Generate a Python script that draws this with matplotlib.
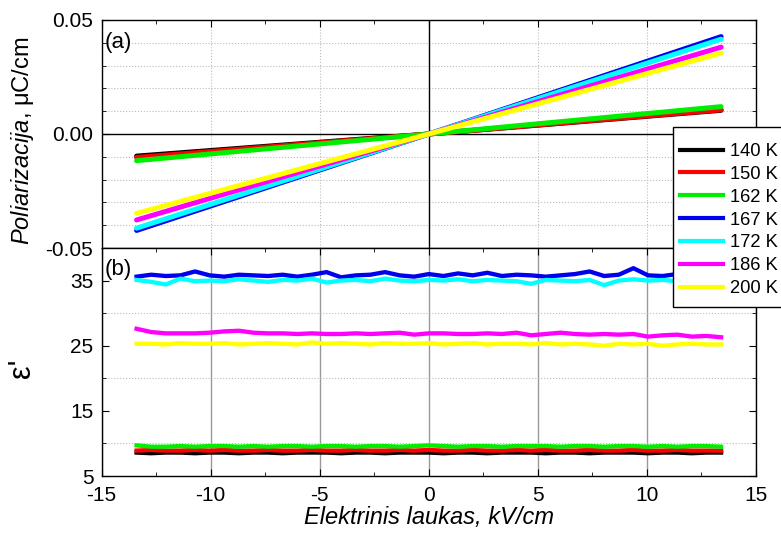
import numpy as np
import matplotlib.pyplot as plt
from matplotlib.ticker import MultipleLocator
from matplotlib.patches import Rectangle

plt.rcParams['font.family'] = ['Liberation Sans', 'DejaVu Sans']
plt.rcParams['mathtext.fontset'] = 'custom'
plt.rcParams['mathtext.rm'] = 'Liberation Sans'
plt.rcParams['mathtext.it'] = 'Liberation Sans:italic'
plt.rcParams['axes.unicode_minus'] = False

temps = ["140 K", "150 K", "162 K", "167 K", "172 K", "186 K", "200 K"]
colors = ["#000000", "#ff0000", "#00ee00", "#0000ee", "#00ffff", "#ff00ff", "#ffff00"]

# (a) polarization vs field, straight P(E) lines
field_p = [-13.4, 0.0, 13.4]
pol = [
    [-0.0097, 0.0, 0.0104],
    [-0.0103, 0.0, 0.0106],
    [-0.0117, 0.0, 0.0120],
    [-0.0423, 0.0, 0.0427],
    [-0.0413, 0.0, 0.0416],
    [-0.0377, 0.0, 0.0381],
    [-0.0348, 0.0, 0.0355],
]

# (b) permittivity vs field, 41 points from -13.4 to 13.4 kV/cm
field_e = np.linspace(-13.4, 13.4, 41)
eps = [
    [8.6, 8.5, 8.6, 8.6, 8.5, 8.6, 8.6, 8.5, 8.6, 8.6, 8.5, 8.6, 8.6, 8.6, 8.5,
     8.6, 8.6, 8.5, 8.6, 8.6, 8.6, 8.5, 8.6, 8.6, 8.5, 8.6, 8.6, 8.6, 8.5, 8.6,
     8.6, 8.5, 8.6, 8.6, 8.6, 8.5, 8.6, 8.6, 8.5, 8.6, 8.6],
    [8.9, 9.0, 8.9, 8.9, 9.0, 8.9, 9.0, 8.9, 8.9, 9.0, 8.9, 8.9, 9.0, 8.9, 8.9,
     9.0, 8.9, 8.9, 9.0, 8.9, 9.0, 8.9, 8.9, 9.0, 8.9, 8.9, 9.0, 8.9, 9.0, 8.9,
     8.9, 9.0, 8.9, 8.9, 9.0, 8.9, 8.9, 9.0, 8.9, 8.9, 8.9],
    [9.7, 9.5, 9.5, 9.6, 9.5, 9.6, 9.6, 9.5, 9.6, 9.5, 9.6, 9.6, 9.5, 9.6, 9.6,
     9.5, 9.6, 9.6, 9.5, 9.6, 9.7, 9.6, 9.5, 9.6, 9.6, 9.5, 9.6, 9.6, 9.6, 9.5,
     9.6, 9.6, 9.5, 9.6, 9.6, 9.5, 9.6, 9.5, 9.6, 9.6, 9.5],
    [35.6, 35.9, 35.7, 35.8, 36.4, 35.8, 35.6, 35.9, 35.8, 35.7, 35.9, 35.6, 35.9, 36.3, 35.5,
     35.8, 35.9, 36.3, 35.8, 35.6, 36.0, 35.7, 36.1, 35.8, 36.2, 35.7, 35.9, 35.8, 35.6, 35.8,
     36.0, 36.4, 35.7, 35.9, 36.9, 35.8, 35.7, 36.0, 35.8, 36.1, 35.9],
    [35.1, 34.8, 34.4, 35.3, 34.9, 35.0, 34.9, 35.2, 35.0, 34.8, 35.1, 35.0, 35.3, 34.7, 35.0,
     35.1, 34.9, 35.3, 35.0, 34.9, 35.1, 35.0, 35.2, 34.9, 35.1, 35.0, 34.9, 34.5, 35.1, 35.0,
     34.9, 35.1, 34.3, 35.0, 35.2, 35.0, 35.1, 34.9, 35.0, 35.1, 35.0],
    [27.6, 27.1, 26.9, 26.9, 26.9, 27.0, 27.2, 27.3, 27.0, 26.9, 26.9, 26.8, 26.9, 26.8, 26.8,
     26.9, 26.8, 26.9, 27.0, 26.7, 26.9, 26.9, 26.8, 26.8, 26.9, 26.8, 27.0, 26.6, 26.8, 27.0,
     26.8, 26.7, 26.8, 26.7, 26.8, 26.4, 26.6, 26.7, 26.4, 26.5, 26.3],
    [25.3, 25.3, 25.2, 25.4, 25.3, 25.3, 25.4, 25.2, 25.3, 25.4, 25.3, 25.2, 25.5, 25.3, 25.4,
     25.3, 25.2, 25.4, 25.3, 25.3, 25.4, 25.2, 25.3, 25.4, 25.2, 25.3, 25.3, 25.2, 25.4, 25.2,
     25.3, 25.2, 25.0, 25.3, 25.2, 25.3, 25.0, 25.2, 25.3, 25.2, 25.2],
]

W, H = 781, 533
fig = plt.figure(figsize=(W / 100, H / 100), dpi=100)
ax1 = fig.add_axes([0.1302, 0.5347, 0.8378, 0.4278])
ax2 = fig.add_axes([0.1302, 0.1069, 0.8378, 0.4278], sharex=ax1)

# polarization panel
for p, c in zip(pol, colors):
    ax1.plot(field_p, p, color=c, lw=3.6, solid_capstyle='round', zorder=3)
ax1.axhline(0, color='k', lw=1.0, zorder=2)
ax1.axvline(0, color='k', lw=1.0, zorder=2)
ax1.set_ylim(-0.05, 0.05)
ax1.set_yticks([-0.05, 0.0, 0.05])
ax1.set_yticklabels(["-0.05", "0.00", "0.05"])
ax1.yaxis.set_minor_locator(MultipleLocator(0.01))
ax1.grid(which='minor', axis='y', color='#bbbbbb', ls=':', lw=0.8)
ax1.grid(which='major', axis='x', color='#bbbbbb', ls=':', lw=0.8)
ax1.tick_params(which='both', direction='in', top=True, bottom=False,
                right=True, labelbottom=False, labelsize=15, pad=6)
ax1.tick_params(which='major', length=5)
ax1.tick_params(which='minor', length=3)
ax1.text(0.004, 0.9, "(a)", transform=ax1.transAxes, fontsize=16, va='center')
fig.text(23 / W, 1 - 141 / H, r"$\it{Poliarizacija}$, μC/cm", fontsize=17,
         rotation=90, ha='center', va='center')

# permittivity panel
lines = []
for e, c in zip(eps, colors):
    ln, = ax2.plot(field_e, e, color=c, lw=3.1, zorder=3)
    lines.append(ln)
ax2.set_xlim(-15, 15)
ax2.set_ylim(5, 40)
ax2.set_xticks(range(-15, 16, 5))
ax2.xaxis.set_minor_locator(MultipleLocator(2.5))
ax2.set_yticks([5, 15, 25, 35])
ax2.yaxis.set_minor_locator(MultipleLocator(5))
ax2.grid(which='major', axis='x', color='#999999', ls='-', lw=1.0)
ax2.grid(which='minor', axis='y', color='#bbbbbb', ls=':', lw=0.8)
ax2.tick_params(which='both', direction='in', top=True, right=True, labelsize=15)
ax2.tick_params(axis='x', pad=7)
ax2.tick_params(axis='y', pad=6)
ax2.tick_params(which='major', length=5)
ax2.tick_params(which='minor', length=3)
ax2.set_xlabel("Elektrinis laukas, kV/cm", fontsize=17, style='italic', labelpad=1)
ax2.text(0.004, 0.905, "(b)", transform=ax2.transAxes, fontsize=16, va='center')
fig.text(22 / W, 1 - 368 / H, "ε'", fontsize=22, rotation=90,
         ha='center', va='center')

for ax in (ax1, ax2):
    for s in ax.spines.values():
        s.set_linewidth(1.0)

# legend box runs past the right edge of the figure
fig.patches.append(Rectangle((673 / W, 1 - 307 / H), 0.2, 180 / H,
                             transform=fig.transFigure, facecolor='white',
                             edgecolor='k', lw=1.0, zorder=4))
leg = fig.legend(lines, temps, loc='upper left', bbox_to_anchor=(680 / W, 1 - 143 / H),
                 fontsize=13.2, frameon=False, handlelength=2.35, handletextpad=0.38,
                 labelspacing=0.32, borderpad=0, borderaxespad=0)
leg.set_zorder(5)
for h in leg.get_lines():
    h.set_linewidth(3.0)

fig.savefig("out.png", dpi=100)
